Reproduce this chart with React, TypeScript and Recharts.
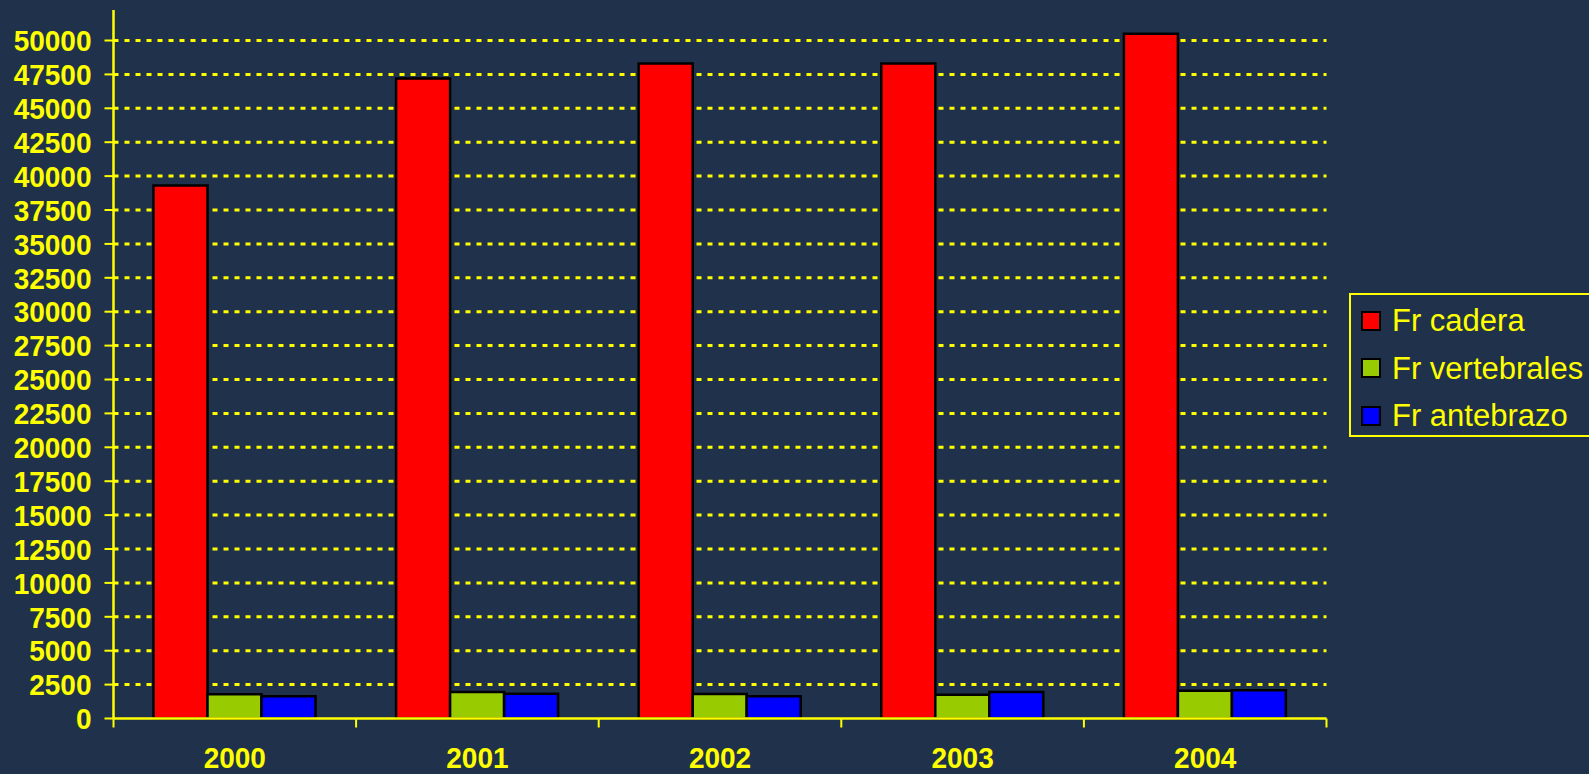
import React from 'react';
import { BarChart, Bar, XAxis, YAxis, CartesianGrid } from 'recharts';

// Years and fracture counts
const years = ['2000', '2001', '2002', '2003', '2004'];
const cadera = [39300, 47200, 48300, 48300, 50500];
const vertebrales = [1780, 1950, 1800, 1750, 2050];
const antebrazo = [1650, 1820, 1650, 1950, 2080];
const yTicks = [0, 2500, 5000, 7500, 10000, 12500, 15000, 17500, 20000, 22500, 25000, 27500, 30000, 32500, 35000, 37500, 40000, 42500, 45000, 47500, 50000];

const seriesList = [
  { key: 'cadera', name: 'Fr cadera', color: '#FF0000' },
  { key: 'vertebrales', name: 'Fr vertebrales', color: '#99CC00' },
  { key: 'antebrazo', name: 'Fr antebrazo', color: '#0000FF' },
];

const chartData = years.map((year, i) => ({
  year,
  cadera: cadera[i],
  vertebrales: vertebrales[i],
  antebrazo: antebrazo[i],
}));

const YELLOW = '#FFFF00';
const BG = '#20324B';
const FONT = '"Liberation Sans", Arial, sans-serif';

const PLOT_LEFT = 113.5;
const PLOT_RIGHT = 1326.5;
const PLOT_BOTTOM = 718.5;
const BAND = (PLOT_RIGHT - PLOT_LEFT) / years.length;

// labels in the original are a bit taller than wide, stretch them slightly
const YearTick = (props: any) => {
  const { x, payload, index } = props;
  const left = x - BAND / 2;
  return (
    <g>
      <line x1={left} x2={left} y1={PLOT_BOTTOM} y2={PLOT_BOTTOM + 9} stroke={YELLOW} strokeWidth={2} />
      {index === years.length - 1 && (
        <line x1={left + BAND} x2={left + BAND} y1={PLOT_BOTTOM} y2={PLOT_BOTTOM + 9} stroke={YELLOW} strokeWidth={2} />
      )}
      <text
        transform={`translate(${x},768) scale(1,1.08)`}
        textAnchor="middle"
        fill={YELLOW}
        fontSize={28}
        fontWeight="bold"
        fontFamily={FONT}
      >
        {payload.value}
      </text>
    </g>
  );
};

const ValueTick = (props: any) => {
  const { x, y, payload } = props;
  return (
    <text
      transform={`translate(${x},${y}) scale(1,1.08)`}
      dy="0.355em"
      textAnchor="end"
      fill={YELLOW}
      fontSize={28}
      fontWeight="bold"
      fontFamily={FONT}
    >
      {payload.value}
    </text>
  );
};

const LegendBox = () => (
  <div
    style={{
      position: 'absolute',
      left: 1349,
      top: 293,
      width: 260,
      height: 144,
      border: `2px solid ${YELLOW}`,
      boxSizing: 'border-box',
      paddingTop: 2,
      paddingLeft: 10,
    }}
  >
    {seriesList.map((s) => (
      <div key={s.key} style={{ display: 'flex', alignItems: 'center', height: 47.5 }}>
        <span
          style={{
            display: 'inline-block',
            width: 16,
            height: 16,
            background: s.color,
            border: '2px solid #000',
            marginRight: 11,
          }}
        />
        <span style={{ color: YELLOW, fontSize: 31, fontFamily: FONT, lineHeight: 1 }}>{s.name}</span>
      </div>
    ))}
  </div>
);

export default function App() {
  return (
    <div
      style={{
        position: 'absolute',
        left: 0,
        top: 0,
        width: 1589,
        height: 774,
        background: BG,
        overflow: 'hidden',
      }}
    >
      <style>{`body{margin:0}`}</style>
      <BarChart
        width={1589}
        height={774}
        data={chartData}
        margin={{ top: 10, right: 262.5, bottom: 0, left: 0 }}
        barCategoryGap={40}
        barGap={0}
      >
        <CartesianGrid
          horizontal
          vertical={false}
          horizontalValues={yTicks.slice(1)}
          stroke={YELLOW}
          strokeWidth={3}
          strokeDasharray="5 6"
        />
        <XAxis
          dataKey="year"
          height={55.5}
          axisLine={{ stroke: YELLOW, strokeWidth: 2.5 }}
          tickLine={false}
          tick={<YearTick />}
          interval={0}
        />
        <YAxis
          width={113.5}
          domain={[0, 52250]}
          ticks={yTicks}
          interval={0}
          axisLine={{ stroke: YELLOW, strokeWidth: 2.5 }}
          tickLine={{ stroke: YELLOW, strokeWidth: 2 }}
          tickSize={9}
          tickMargin={13}
          tick={<ValueTick />}
        />
        {seriesList.map((s) => (
          <Bar
            key={s.key}
            dataKey={s.key}
            name={s.name}
            fill={s.color}
            stroke="#000"
            strokeWidth={2.5}
            isAnimationActive={false}
          />
        ))}
      </BarChart>
      <LegendBox />
    </div>
  );
}
